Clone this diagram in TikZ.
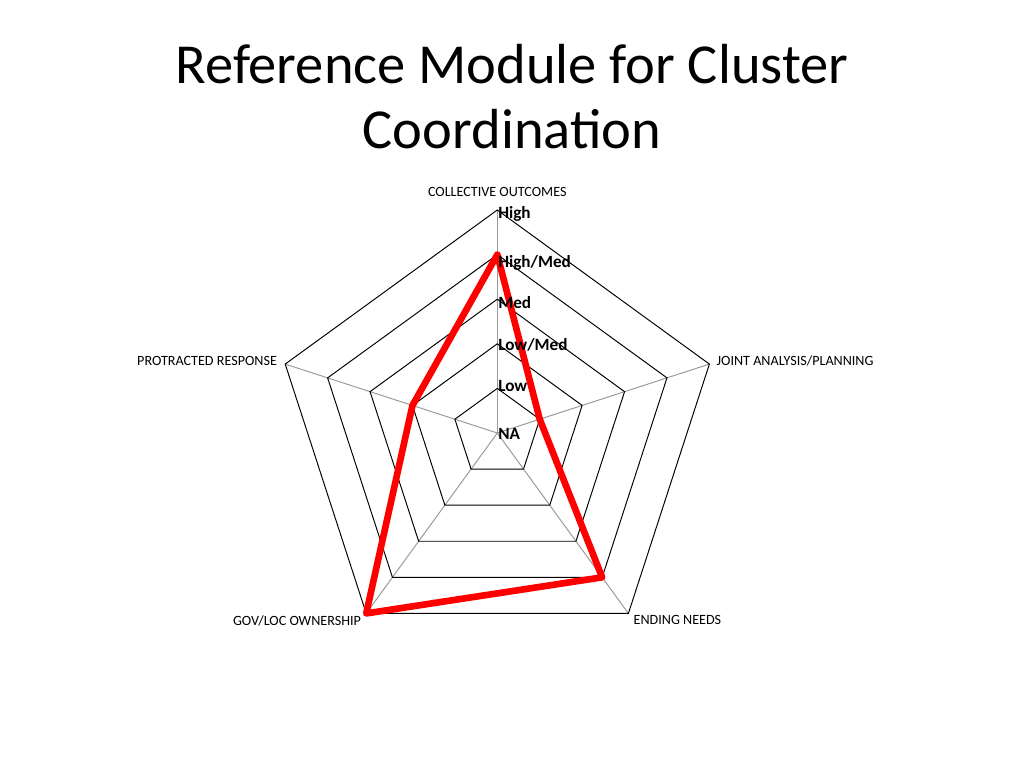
\documentclass[tikz,border=0pt]{standalone}
\usepackage{fontspec}
\setmainfont{Carlito}
\tikzset{
  axislabel/.style={font=\fontsize{10.2}{12}\selectfont, inner sep=0pt},
  levellabel/.style={font=\fontsize{12.4}{14}\selectfont\bfseries, anchor=west, inner sep=0pt},
  ring/.style={draw=black, line width=0.7pt},
  spoke/.style={draw=black!40, line width=0.7pt},
  score/.style={draw=red, line width=4.8pt, line join=round}
}
\begin{document}
\begin{tikzpicture}[x=0.01in, y=-0.01in]
    \useasboundingbox (0,0) rectangle (1024,768);
    \node (title) at (512,97) [align=center, font=\fontsize{40.8}{47}\selectfont] {Reference Module for Cluster\\Coordination};
    \begin{scope}[shift={(497.3,433)}, yscale=-1]
      % spokes and rings
      \foreach \a in {90,18,-54,-126,162}
        \draw [spoke] (0,0) -- (\a:223);
      \foreach \r in {44.6,89.2,133.8,178.4,223}
        \draw [ring] (90:\r) -- (18:\r) -- (-54:\r) -- (-126:\r) -- (162:\r) -- cycle;
      \coordinate (co) at (90:223);
      \coordinate (ja) at (18:223);
      \coordinate (en) at (-54:223);
      \coordinate (go) at (-126:223);
      \coordinate (pr) at (162:223);
      % scores
      \draw [score] (90:178.4) -- (18:44.6) -- (-54:178.4) -- (-126:223) -- (162:89.2) -- cycle;
    \end{scope}
    \node [axislabel, anchor=south] (lco) at ([yshift=0.13in]co) {COLLECTIVE OUTCOMES};
    \node [axislabel, anchor=west] (lja) at ([xshift=0.07in, yshift=0.03in]ja) {JOINT ANALYSIS/PLANNING};
    \node [axislabel, anchor=west] (len) at ([xshift=0.05in, yshift=-0.07in]en) {ENDING NEEDS};
    \node [axislabel, anchor=east] (lgo) at ([xshift=-0.05in, yshift=-0.07in]go) {GOV/LOC OWNERSHIP};
    \node [axislabel, anchor=east] (lpr) at ([xshift=-0.08in, yshift=0.03in]pr) {PROTRACTED RESPONSE};
    \foreach \y/\t in {214/High, 263/High\slash Med, 303/Med, 345/Low\slash Med, 386/Low, 434/NA}
      \node [levellabel] at (498,\y) {\t};
\end{tikzpicture}
\end{document}
